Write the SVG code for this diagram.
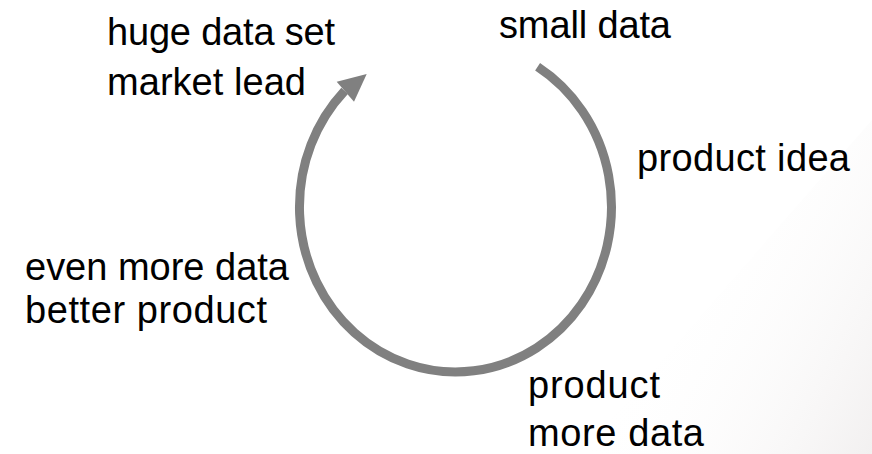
<svg xmlns="http://www.w3.org/2000/svg" width="872" height="454" viewBox="0 0 872 454">
  <defs>
    <style>
      .lbl { font-family: "Liberation Sans", Arial, sans-serif; font-size: 38px; fill: #000000; }
      .cyc { fill: none; stroke: #808080; stroke-width: 9; stroke-linecap: butt; }
    </style>
    <linearGradient id="bg" x1="640" y1="330" x2="872" y2="454" gradientUnits="userSpaceOnUse">
      <stop offset="0" stop-color="#ffffff" stop-opacity="0"/>
      <stop offset="1" stop-color="#f2f0f0"/>
    </linearGradient>
  </defs>
  <rect x="0" y="0" width="872" height="454" fill="#ffffff"/>
  <polygon points="580,454 872,120 872,454" fill="url(#bg)"/>

  <g id="connectors">
    <path class="cyc" d="M 537.6 66.7 A 156 165 0 1 1 344.6 90.9"/>
    <polygon points="366.7,74 336.7,81.7 354,101.7" fill="#808080"/>
  </g>

  <g id="node-small-data">
    <text class="lbl" x="499" y="38" textLength="172" lengthAdjust="spacing">small data</text>
  </g>
  <g id="node-product-idea">
    <text class="lbl" x="637" y="171" textLength="213" lengthAdjust="spacing">product idea</text>
  </g>
  <g id="node-product-more-data">
    <text class="lbl" x="528" y="398" textLength="132" lengthAdjust="spacing">product</text>
    <text class="lbl" x="528" y="446" textLength="176" lengthAdjust="spacing">more data</text>
  </g>
  <g id="node-even-more-data">
    <text class="lbl" x="25" y="280" textLength="264" lengthAdjust="spacing">even more data</text>
    <text class="lbl" x="25" y="323" textLength="242" lengthAdjust="spacing">better product</text>
  </g>
  <g id="node-huge-data-set">
    <text class="lbl" x="107" y="45" textLength="228" lengthAdjust="spacing">huge data set</text>
    <text class="lbl" x="107" y="95" textLength="199" lengthAdjust="spacing">market lead</text>
  </g>
</svg>
